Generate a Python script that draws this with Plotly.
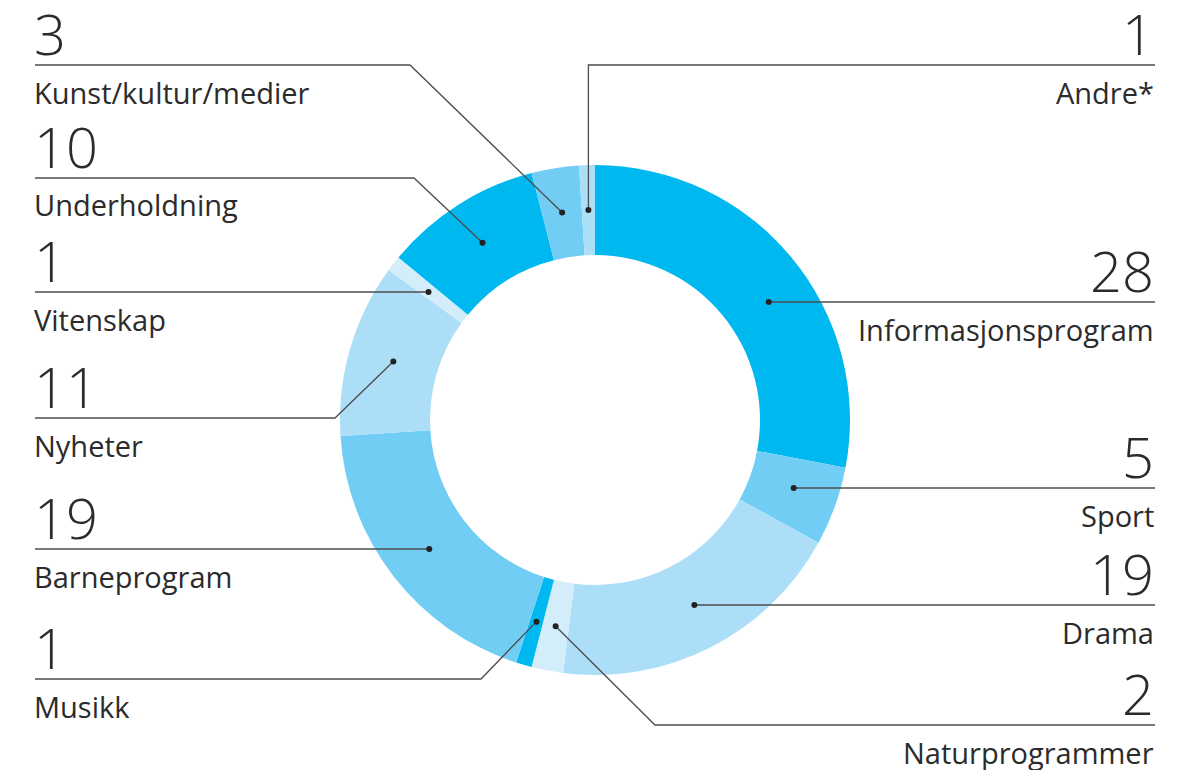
import math
import plotly.graph_objects as go

# ---- data ----
categories = ["Informasjonsprogram", "Sport", "Drama", "Naturprogrammer", "Musikk",
              "Barneprogram", "Nyheter", "Vitenskap", "Underholdning",
              "Kunst/kultur/medier", "Andre*"]
values = [28, 5, 19, 2, 1, 19, 11, 1, 10, 3, 1]

# ---- style ----
BRIGHT, MEDIUM, LIGHT, PALE = "#00b8f0", "#72cdf4", "#acdff7", "#d3edfa"
colors = [BRIGHT, MEDIUM, LIGHT, PALE, BRIGHT, MEDIUM, LIGHT, PALE, BRIGHT, MEDIUM, LIGHT]

# label layout: side, y of the rule, elbow x
#   elbow None  -> straight rule at that height, dot where the rule meets the ring's middle
#   elbow "dot" -> vertical drop to the dot at the slice's middle angle
#   elbow num   -> rule to that x, then diagonal to the dot at the slice's middle angle
layout_spec = {
    "Informasjonsprogram": ("right", 302, None),
    "Sport": ("right", 488, None),
    "Drama": ("right", 605, None),
    "Naturprogrammer": ("right", 725, 655),
    "Musikk": ("left", 679, 481),
    "Barneprogram": ("left", 549, None),
    "Nyheter": ("left", 418, 335),
    "Vitenskap": ("left", 292, None),
    "Underholdning": ("left", 178, 414),
    "Kunst/kultur/medier": ("left", 65, 410),
    "Andre*": ("right", 65, "dot"),
}

W, H = 1192, 770
CX, CY = 595, 420
R_OUT, R_IN = 255, 165
R_MID = (R_OUT + R_IN) / 2
LEFT_X, RIGHT_X = 35, 1155
TEXT = "#2b2b2b"
RULE = "#4d4d4d"
FONT = "Open Sans"


def px(x):
    return x / W


def py(y):
    return 1 - y / H


fig = go.Figure()
fig.add_trace(go.Pie(
    labels=categories, values=values, sort=False, direction="clockwise", rotation=0,
    hole=R_IN / R_OUT, textinfo="none", hoverinfo="label+value",
    marker=dict(colors=colors, line=dict(width=0)),
    domain=dict(x=[px(CX - R_OUT), px(CX + R_OUT)], y=[py(CY + R_OUT), py(CY - R_OUT)]),
    showlegend=False,
))

total = sum(values)
cum = 0
shapes, annotations = [], []
for cat, v in zip(categories, values):
    a = (cum + v / 2) / total * 2 * math.pi
    cum += v
    side, ly, ex = layout_spec[cat]
    end_x = LEFT_X if side == "left" else RIGHT_X
    if ex is None:
        dy = ly
        sgn = 1 if math.sin(a) >= 0 else -1
        dx = CX + sgn * math.sqrt(max(R_MID ** 2 - (ly - CY) ** 2, 0))
        pts = [(end_x, ly), (dx, dy)]
    else:
        dx = CX + R_MID * math.sin(a)
        dy = CY - R_MID * math.cos(a)
        if ex == "dot":
            ex = dx
        pts = [(end_x, ly), (ex, ly), (dx, dy)]
    path = "M " + " L ".join(f"{px(x):.5f},{py(y):.5f}" for x, y in pts)
    shapes.append(dict(type="path", path=path, xref="paper", yref="paper",
                       line=dict(color=RULE, width=1.3), layer="above"))
    r = 3
    shapes.append(dict(type="circle", xref="paper", yref="paper",
                       x0=px(dx - r), x1=px(dx + r), y0=py(dy + r), y1=py(dy - r),
                       fillcolor="#222222", line=dict(width=0), layer="above"))
    xa = "left" if side == "left" else "right"
    tx = LEFT_X - 3 if side == "left" else RIGHT_X + 1
    annotations.append(dict(x=px(tx), y=py(ly - 32), xref="paper", yref="paper",
                            text=str(v), showarrow=False, xanchor=xa, yanchor="middle",
                            height=56, valign="middle",
                            font=dict(family=FONT, size=56, color=TEXT, weight=300)))
    annotations.append(dict(x=px(tx), y=py(ly + 27), xref="paper", yref="paper",
                            text=cat, showarrow=False, xanchor=xa, yanchor="middle",
                            font=dict(family=FONT, size=29, color=TEXT)))

fig.update_layout(
    width=W, height=H, margin=dict(l=0, r=0, t=0, b=0),
    paper_bgcolor="white", plot_bgcolor="white",
    shapes=shapes, annotations=annotations, showlegend=False,
)
fig.write_html("out.html", config={"displayModeBar": False},
               post_script="document.body.style.margin='0';")
